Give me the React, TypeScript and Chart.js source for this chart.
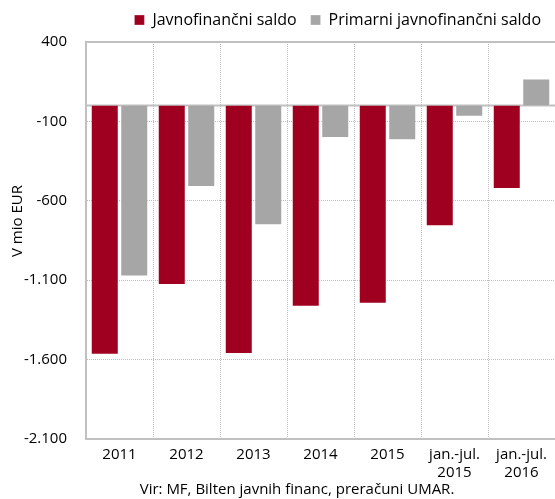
import React, { useEffect, useRef } from 'react';
import { Chart, registerables } from 'chart.js';

Chart.register(...registerables);

const categories: string[][] = [
  ['2011'],
  ['2012'],
  ['2013'],
  ['2014'],
  ['2015'],
  ['jan.-jul.', '2015'],
  ['jan.-jul.', '2016'],
];
const javnofinancniSaldo = [-1570, -1130, -1565, -1267, -1248, -760, -526];
const primarniSaldo = [-1077, -513, -754, -205, -218, -70, 170];
const yTicks = [-2100, -1600, -1100, -600, -100, 400];
const seriesNames = ['Javnofinančni saldo', 'Primarni javnofinančni saldo'];
const yTitle = 'V mio EUR';
const footerText = 'Vir: MF, Bilten javnih financ, preračuni UMAR.';

const FONT = "'Open Sans', sans-serif";
const FRAME = '#c0c0c0';
const GRID = '#bdbdbd';

function fmt(v: number): string {
  const s = Math.abs(v).toString().replace(/\B(?=(\d{3})+(?!\d))/g, '.');
  return (v < 0 ? '-' : '') + s;
}

const extras = {
  id: 'extras',
  beforeUpdate(chart: any) {
    const lg = chart.legend;
    if (lg && !lg.__extraGap) {
      const orig = lg.fit;
      lg.fit = function (this: any) {
        orig.call(this);
        this.height += 4;
      };
      lg.__extraGap = true;
    }
  },
  beforeDatasetsDraw(chart: any) {
    const { ctx, chartArea } = chart;
    const y = chart.scales.y;
    const py = y.getPixelForValue(0);
    ctx.save();
    ctx.strokeStyle = FRAME;
    ctx.lineWidth = 2;
    ctx.beginPath();
    ctx.moveTo(chartArea.left, py);
    ctx.lineTo(chartArea.right, py);
    ctx.stroke();
    ctx.restore();
  },
  afterDraw(chart: any) {
    const { ctx } = chart;
    ctx.save();
    ctx.fillStyle = '#000';
    ctx.font = `15px ${FONT}`;
    ctx.textAlign = 'center';
    ctx.textBaseline = 'middle';
    ctx.fillText(footerText, 297, 490);
    ctx.translate(18, 221);
    ctx.rotate(-Math.PI / 2);
    ctx.fillText(yTitle, 0, 0);
    ctx.restore();
  },
};

export default function App() {
  const ref = useRef<HTMLCanvasElement | null>(null);
  useEffect(() => {
    document.body.style.margin = '0';
    const canvas = ref.current;
    if (!canvas) return;
    const isFrame = (v: number) => v === yTicks[0] || v === yTicks[yTicks.length - 1];
    const chart = new Chart(canvas, {
      type: 'bar',
      data: {
        labels: categories,
        datasets: [
          {
            label: seriesNames[0],
            data: javnofinancniSaldo,
            backgroundColor: '#A00020',
            borderColor: 'rgba(255,255,255,0.3)',
            borderWidth: 1,
          },
          {
            label: seriesNames[1],
            data: primarniSaldo,
            backgroundColor: '#A6A6A6',
            borderColor: 'rgba(255,255,255,0.3)',
            borderWidth: 1,
          },
        ],
      },
      plugins: [extras],
      options: {
        responsive: false,
        animation: false,
        layout: { padding: { top: -2, bottom: 10, left: 0, right: 0 } },
        datasets: { bar: { categoryPercentage: 0.88, barPercentage: 0.95 } },
        plugins: {
          legend: {
            position: 'top',
            align: 'end',
            labels: {
              boxWidth: 10,
              boxHeight: 10,
              padding: 14,
              color: '#000',
              font: { family: FONT, size: 16 },
            },
          },
          tooltip: { enabled: false },
          title: { display: false },
        },
        scales: {
          x: {
            grid: {
              offset: true,
              drawTicks: false,
              color: (c: any) => (c.index === 0 ? 'rgba(0,0,0,0)' : GRID),
              lineWidth: 1,
            },
            border: { display: true, color: FRAME, width: 2, dash: [1, 1] },
            ticks: {
              padding: 7,
              color: '#000',
              font: { family: FONT, size: 15 },
              maxRotation: 0,
              autoSkip: false,
            },
          },
          y: {
            min: yTicks[0],
            max: yTicks[yTicks.length - 1],
            afterBuildTicks: (scale: any) => {
              scale.ticks = yTicks.map((v) => ({ value: v }));
            },
            afterFit: (scale: any) => {
              scale.width = 86;
            },
            grid: {
              drawTicks: false,
              color: (c: any) => (c.tick && isFrame(c.tick.value) ? FRAME : GRID),
              lineWidth: (c: any) => (c.tick && isFrame(c.tick.value) ? 2 : 1),
            },
            border: {
              display: true,
              color: FRAME,
              width: 2,
              dash: (c: any) => (c.tick && isFrame(c.tick.value) ? [] : [1, 1]),
            },
            ticks: {
              padding: 19,
              color: '#000',
              font: { family: FONT, size: 15 },
              callback: (v: any) => fmt(Number(v)),
            },
          },
        },
      },
    } as any);
    return () => chart.destroy();
  }, []);
  return (
    <div style={{ width: 555, height: 499 }}>
      <canvas ref={ref} width={555} height={499} style={{ display: 'block' }} />
    </div>
  );
}
